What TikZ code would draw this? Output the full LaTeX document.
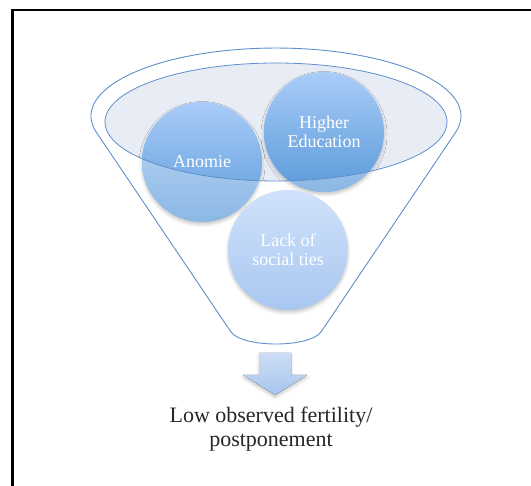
\documentclass[tikz,border=0pt]{standalone}
\usepackage{fontspec}
\setmainfont{Liberation Serif}
\usetikzlibrary{shadows.blur}

\definecolor{funnelline}{HTML}{5E8FCB}
\definecolor{rimfill}{HTML}{E8ECF5}
\definecolor{ballTop}{HTML}{A9CCF8}
\definecolor{ballBot}{HTML}{5A9AD9}
\definecolor{paleTop}{HTML}{D0E2FB}
\definecolor{paleBot}{HTML}{A9C7F0}
\definecolor{arrowTop}{HTML}{CCDDF6}
\definecolor{arrowBot}{HTML}{A8C5EE}
\definecolor{captiontext}{HTML}{262626}

\tikzset{
  softshadow/.style={blur shadow={shadow xshift=0pt, shadow yshift=-2.5pt,
      shadow blur radius=3pt, shadow opacity=22}},
  factor/.style={circle, minimum size=120pt, inner sep=0pt, text=white,
      align=center, font=\fontsize{18}{19}\selectfont,
      top color=ballTop, bottom color=ballBot, softshadow},
  palefactor/.style={factor, top color=paleTop, bottom color=paleBot},
  outline/.style={draw=funnelline, line width=0.9pt},
  caption/.style={text=captiontext, font=\fontsize{22}{24}\selectfont, inner sep=0pt, anchor=base},
}

\begin{document}
\begin{tikzpicture}[x=1pt, y=-1pt]
  \useasboundingbox (0,0) rectangle (531,486);

  % frame
  \draw[line width=2.6pt] (12.7,486) -- (12.7,10) -- (531,10);

  % funnel body: rim arc, sides and rounded bottom
  \coordinate (rimc) at (276,116);
  \coordinate (fl) at (96.5,132.5);
  \coordinate (fr) at (455.5,132.5);
  \coordinate (bl) at (231,332);
  \coordinate (br) at (321,332);
  \draw[outline, line join=round]
    (bl) -- (fl) arc[start angle=194, end angle=-14, x radius=185pt, y radius=68pt]
    -- (br) .. controls (309,348) and (243,348) .. (bl);

  % inner rim
  \coordinate (rim) at (276,122);
  \fill[rimfill] (rim) ellipse [x radius=171pt, y radius=59pt];

  % factors
  \node[factor] (anomie) at (202,162) {};
  \node[factor] (higher) at (324,132) {};
  \node[palefactor] (lack) at (288,250) {Lack of\\social ties};

  % parts of the factors below the rim are washed out
  \foreach \n in {anomie, higher} {
    \begin{scope}
      \clip (\n.center) circle (60pt);
      \fill[white, opacity=0.3, even odd rule]
        (0,0) rectangle (531,486) (rim) ellipse [x radius=171pt, y radius=59pt];
    \end{scope}
  }

  \draw[draw=funnelline, line width=0.8pt] (rim) ellipse [x radius=171pt, y radius=59pt];

  \node[text=white, font=\fontsize{18}{19}\selectfont] at (anomie.center) {Anomie};
  \node[text=white, align=center, font=\fontsize{18}{19}\selectfont] at (higher.center) {Higher\\Education};

  % outcome arrow
  \coordinate (arrowtip) at (275,395);
  \fill[top color=arrowTop, bottom color=arrowBot, softshadow]
    (259,353) -- (291,353) -- (291,375) -- (307,375) -- (arrowtip)
    -- (243,375) -- (259,375) -- cycle;

  % outcome
  \node[caption] (lowA) at (271,423) {Low observed fertility/};
  \node[caption] (lowB) at (271,447) {postponement};
\end{tikzpicture}
\end{document}
